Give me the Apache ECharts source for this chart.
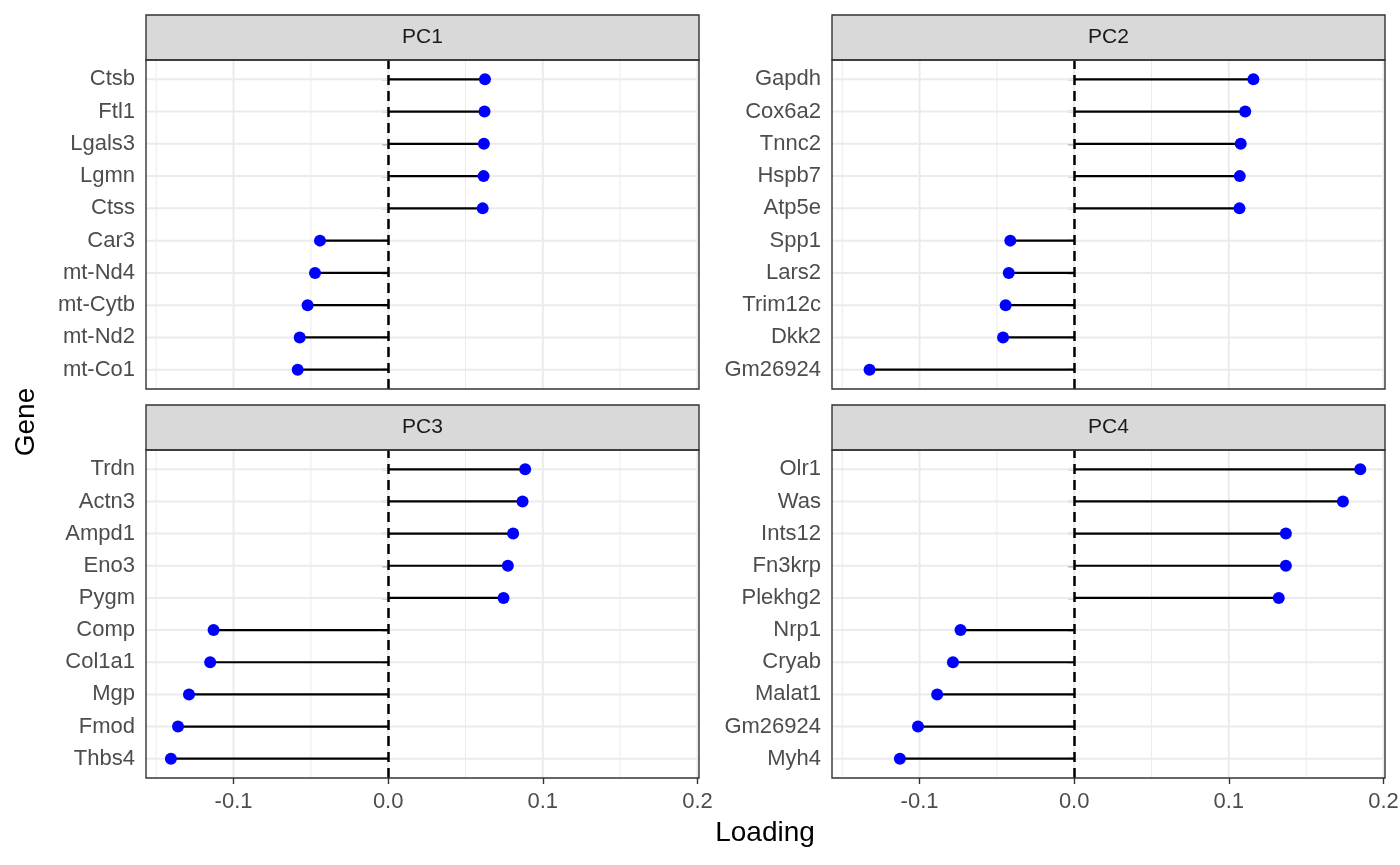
<!DOCTYPE html>
<html>
<head>
<meta charset="utf-8">
<script src="https://cdn.jsdelivr.net/npm/echarts@6/dist/echarts.min.js"></script>
<style>
html,body{margin:0;padding:0;background:#ffffff;}
#chart{width:1400px;height:865px;}
</style>
</head>
<body>
<div id="chart"></div>
<script>
// ---- data (genes listed top to bottom as displayed) ----
const panelNames = ["PC1", "PC2", "PC3", "PC4"];

const genesPC1 = ["Ctsb", "Ftl1", "Lgals3", "Lgmn", "Ctss", "Car3", "mt-Nd4", "mt-Cytb", "mt-Nd2", "mt-Co1"];
const loadPC1  = [0.0626, 0.0623, 0.0619, 0.0617, 0.0611, -0.0441, -0.0473, -0.0521, -0.0572, -0.0585];

const genesPC2 = ["Gapdh", "Cox6a2", "Tnnc2", "Hspb7", "Atp5e", "Spp1", "Lars2", "Trim12c", "Dkk2", "Gm26924"];
const loadPC2  = [0.1159, 0.1106, 0.1077, 0.1071, 0.1069, -0.0413, -0.0423, -0.0443, -0.0460, -0.1323];

const genesPC3 = ["Trdn", "Actn3", "Ampd1", "Eno3", "Pygm", "Comp", "Col1a1", "Mgp", "Fmod", "Thbs4"];
const loadPC3  = [0.0886, 0.0869, 0.0808, 0.0774, 0.0746, -0.1129, -0.1151, -0.1288, -0.1359, -0.1405];

const genesPC4 = ["Olr1", "Was", "Ints12", "Fn3krp", "Plekhg2", "Nrp1", "Cryab", "Malat1", "Gm26924", "Myh4"];
const loadPC4  = [0.1850, 0.1738, 0.1369, 0.1369, 0.1323, -0.0735, -0.0784, -0.0886, -0.1010, -0.1127];

const xTickValues  = [-0.1, 0.0, 0.1, 0.2];
const xMinorValues = [-0.15, -0.05, 0.05, 0.15];

// ---- layout / style ----
const genesAll = [genesPC1, genesPC2, genesPC3, genesPC4];
const loadAll  = [loadPC1, loadPC2, loadPC3, loadPC4];
const X_MIN = -0.1566, X_MAX = 0.201;
const Y_MIN = 0.4, Y_MAX = 10.6;
const FONT = "Liberation Sans, Arial, Helvetica, sans-serif";
const AXIS_FS = 22, STRIP_FS = 21, TITLE_FS = 28;

const panelLeft = [146, 832, 146, 832];
const panelTop  = [60, 60, 450, 450];
const panelW = 553;
const panelH = [329, 329, 328, 328];
const stripH = 45;

const grids = [], xAxes = [], yAxes = [], series = [], graphics = [];

for (let p = 0; p < 4; p++) {
  const genes = genesAll[p];
  const vals = loadAll[p];
  const n = genes.length;
  const yTicks = genes.map((g, i) => n - i);
  const bottom = p >= 2;

  grids.push({
    left: panelLeft[p], top: panelTop[p], width: panelW, height: panelH[p],
    containLabel: false, outerBoundsMode: 'none', show: false
  });

  xAxes.push({
    gridIndex: p, type: 'value', min: X_MIN, max: X_MAX,
    axisLine: { show: false },
    splitLine: { show: false },
    minorSplitLine: { show: false },
    axisTick: { show: bottom, customValues: xTickValues, length: 6, lineStyle: { color: '#333333', width: 1.4 } },
    axisLabel: {
      show: bottom, customValues: xTickValues,
      formatter: v => Number(v).toFixed(1),
      color: '#4D4D4D', fontSize: AXIS_FS, fontFamily: FONT, margin: 13
    }
  });

  yAxes.push({
    gridIndex: p, type: 'value', min: Y_MIN, max: Y_MAX,
    axisLine: { show: false },
    splitLine: { show: false },
    axisTick: { show: true, customValues: yTicks, length: 6, lineStyle: { color: '#333333', width: 1.4 } },
    axisLabel: {
      show: true, customValues: yTicks,
      formatter: v => genes[n - Math.round(v)],
      color: '#4D4D4D', fontSize: AXIS_FS, fontFamily: FONT, margin: 11
    }
  });

  // grid lines (drawn through the axes' scales)
  const gridData = [];
  xTickValues.forEach(v => gridData.push([0, v]));
  xMinorValues.forEach(v => gridData.push([1, v]));
  yTicks.forEach(v => gridData.push([2, v]));
  series.push({
    type: 'custom', xAxisIndex: p, yAxisIndex: p, z: 1, silent: true,
    encode: { x: 1, y: 1 },
    data: gridData,
    renderItem: function (params, api) {
      const kind = api.value(0), v = api.value(1);
      let a, b, w;
      if (kind < 2) {
        a = api.coord([v, Y_MIN]); b = api.coord([v, Y_MAX]); w = kind === 0 ? 2 : 1;
      } else {
        a = api.coord([X_MIN, v]); b = api.coord([X_MAX, v]); w = 2;
      }
      return { type: 'line', shape: { x1: a[0], y1: a[1], x2: b[0], y2: b[1] },
               style: { stroke: '#EBEBEB', lineWidth: w } };
    }
  });

  const pts = vals.map((v, i) => [v, n - i]);

  // segments from 0 to loading
  series.push({
    type: 'custom', xAxisIndex: p, yAxisIndex: p, z: 2, silent: true,
    data: pts,
    renderItem: function (params, api) {
      const v = api.value(0), y = api.value(1);
      const a = api.coord([0, y]), b = api.coord([v, y]);
      return { type: 'line', shape: { x1: a[0], y1: a[1], x2: b[0], y2: b[1] },
               style: { stroke: '#000000', lineWidth: 2.2 } };
    }
  });

  // points + dashed zero line
  series.push({
    type: 'scatter', xAxisIndex: p, yAxisIndex: p, z: 3, silent: true,
    symbol: 'circle', symbolSize: 12,
    itemStyle: { color: '#0000FF', opacity: 1 },
    data: pts,
    markLine: {
      silent: true, symbol: 'none', animation: false,
      label: { show: false },
      lineStyle: { type: [10, 6], color: '#000000', width: 2.5 },
      data: [{ xAxis: 0 }]
    }
  });

  // strip
  const sy = panelTop[p] - stripH;
  graphics.push({
    type: 'rect', z: 100,
    shape: { x: panelLeft[p], y: sy, width: panelW, height: stripH },
    style: { fill: '#D9D9D9', stroke: '#333333', lineWidth: 1.4 }
  });
  graphics.push({
    type: 'text', z: 101,
    x: panelLeft[p] + panelW / 2, y: sy + stripH / 2,
    style: { text: panelNames[p], textAlign: 'center', textVerticalAlign: 'middle',
             fontSize: STRIP_FS, fontFamily: FONT, fill: '#1A1A1A' }
  });
  // panel border
  graphics.push({
    type: 'rect', z: 100,
    shape: { x: panelLeft[p], y: panelTop[p], width: panelW, height: panelH[p] },
    style: { fill: 'none', stroke: '#333333', lineWidth: 1.4 }
  });
}

// axis titles
graphics.push({
  type: 'text', z: 101, x: 26, y: 422, rotation: Math.PI / 2,
  style: { text: 'Gene', textAlign: 'center', textVerticalAlign: 'middle',
           fontSize: TITLE_FS, fontFamily: FONT, fill: '#000000' }
});
graphics.push({
  type: 'text', z: 101, x: 765, y: 833,
  style: { text: 'Loading', textAlign: 'center', textVerticalAlign: 'middle',
           fontSize: TITLE_FS, fontFamily: FONT, fill: '#000000' }
});

const chart = echarts.init(document.getElementById('chart'), null, { renderer: 'canvas' });
chart.setOption({
  animation: false,
  backgroundColor: '#ffffff',
  grid: grids,
  xAxis: xAxes,
  yAxis: yAxes,
  series: series,
  graphic: graphics
});
</script>
</body>
</html>
